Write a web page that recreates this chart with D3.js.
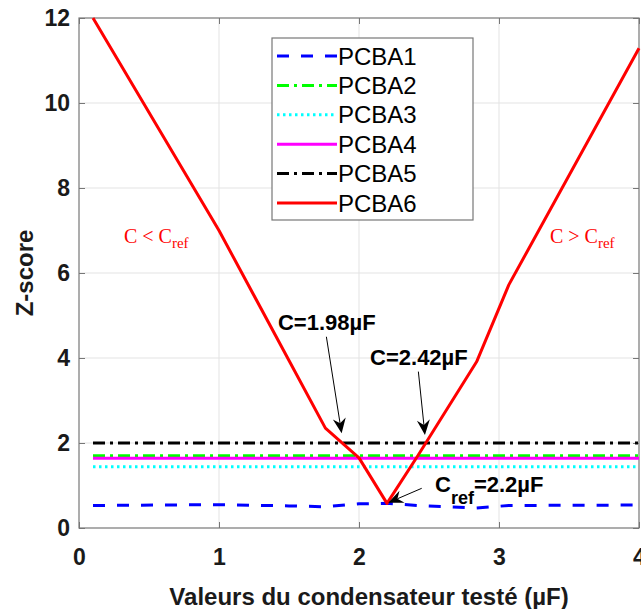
<!DOCTYPE html>
<html><head><meta charset="utf-8">
<script src="https://cdn.jsdelivr.net/npm/d3@7"></script>
<style>
body{margin:0;background:#fff;}
svg{display:block;}
</style></head>
<body>
<svg id="chart" width="641" height="609"></svg>
<script>
// ---- data ----
const xValues = [0.1, 1.0, 1.5, 1.76, 2.0, 2.2, 2.42, 2.84, 3.07, 4.0];
const pcba1 = [0.53, 0.55, 0.52, 0.50, 0.57, 0.58, 0.53, 0.47, 0.53, 0.54];
const pcba2 = [1.70, 1.70, 1.70, 1.70, 1.70, 1.70, 1.70, 1.70, 1.70, 1.70];
const pcba3 = [1.44, 1.44, 1.44, 1.44, 1.44, 1.44, 1.44, 1.44, 1.44, 1.44];
const pcba4 = [1.64, 1.64, 1.64, 1.64, 1.64, 1.64, 1.64, 1.64, 1.64, 1.64];
const pcba5 = [2.00, 2.00, 2.00, 2.00, 2.00, 2.00, 2.00, 2.00, 2.00, 2.00];
const pcba6 = [12.0, 7.0, 3.94, 2.35, 1.65, 0.58, 1.70, 3.91, 5.72, 11.29];
const seriesNames = ["PCBA1", "PCBA2", "PCBA3", "PCBA4", "PCBA5", "PCBA6"];
const xTicks = [0, 1, 2, 3, 4];
const yTicks = [0, 2, 4, 6, 8, 10, 12];

const seriesValues = [pcba1, pcba2, pcba3, pcba4, pcba5, pcba6];
const styles = [
  {color: "#0000ff", dash: "12,12"},
  {color: "#00ff00", dash: "12,5,3,5"},
  {color: "#00ffff", dash: "2.5,3.5"},
  {color: "#ff00ff", dash: null},
  {color: "#000000", dash: "12,5,3,5"},
  {color: "#ff0000", dash: null}
];

const L = 79, R = 639, T = 18, B = 528;
const x = d3.scaleLinear().domain([0, 4]).range([L, R]);
const y = d3.scaleLinear().domain([0, 12]).range([B, T]);

const svg = d3.select("#chart");

// grid
const grid = svg.append("g");
grid.selectAll("line.gx").data(xTicks.slice(1, -1)).join("line")
  .attr("x1", d => x(d)).attr("x2", d => x(d)).attr("y1", T).attr("y2", B)
  .attr("stroke", "#e3e3e3").attr("stroke-width", 1);
grid.selectAll("line.gy").data(yTicks.slice(1, -1)).join("line")
  .attr("y1", d => y(d)).attr("y2", d => y(d)).attr("x1", L).attr("x2", R)
  .attr("stroke", "#e3e3e3").attr("stroke-width", 1);

// axes
const tickFont = "bold 23px 'Liberation Sans', Arial, sans-serif";
const xAxis = svg.append("g").attr("transform", `translate(0,${B})`)
  .call(d3.axisBottom(x).tickValues(xTicks).tickFormat(d3.format("d")).tickSize(-6).tickPadding(21));
const yAxis = svg.append("g").attr("transform", `translate(${L},0)`)
  .call(d3.axisLeft(y).tickValues(yTicks).tickFormat(d3.format("d")).tickSize(-6).tickPadding(9));
svg.append("g").attr("transform", `translate(0,${T})`)
  .call(d3.axisTop(x).tickValues(xTicks).tickFormat("").tickSize(-6));
svg.append("g").attr("transform", `translate(${R},0)`)
  .call(d3.axisRight(y).tickValues(yTicks).tickFormat("").tickSize(-6));
svg.selectAll(".domain").remove();
svg.selectAll(".tick line").attr("stroke", "#777").attr("stroke-width", 1);
[xAxis, yAxis].forEach(a => a.selectAll("text").style("font", tickFont).attr("fill", "#1a1a1a"));

// box
svg.append("rect").attr("x", L).attr("y", T).attr("width", R - L).attr("height", B - T)
  .attr("fill", "none").attr("stroke", "#777").attr("stroke-width", 1.2);

// lines
const line = d3.line().x(d => x(d[0])).y(d => y(d[1]));
seriesValues.forEach((vals, i) => {
  const pts = xValues.map((xv, j) => [xv, vals[j]]);
  svg.append("path").datum(pts).attr("d", line)
    .attr("fill", "none").attr("stroke", styles[i].color).attr("stroke-width", 3)
    .attr("stroke-dasharray", styles[i].dash).attr("stroke-linejoin", "round");
});

// legend
const lg = svg.append("g");
lg.append("rect").attr("x", 272).attr("y", 38).attr("width", 201).attr("height", 182)
  .attr("fill", "#fff").attr("stroke", "#777").attr("stroke-width", 1.2);
seriesNames.forEach((n, i) => {
  const cy = 56 + i * 29.4;
  lg.append("line").attr("x1", 277).attr("x2", 337).attr("y1", cy).attr("y2", cy)
    .attr("stroke", styles[i].color).attr("stroke-width", 3).attr("stroke-dasharray", styles[i].dash);
  lg.append("text").attr("x", 338).attr("y", cy).attr("dy", "0.36em")
    .style("font", "24px 'Liberation Sans', Arial, sans-serif").attr("fill", "#000").text(n);
});

// axis labels
svg.append("text").attr("x", 369).attr("y", 605).attr("text-anchor", "middle")
  .style("font", "bold 24px 'Liberation Sans', Arial, sans-serif").attr("fill", "#1a1a1a")
  .text("Valeurs du condensateur testé (µF)");
svg.append("text").attr("transform", "translate(33,273) rotate(-90)").attr("text-anchor", "middle")
  .style("font", "bold 24px 'Liberation Sans', Arial, sans-serif").attr("fill", "#1a1a1a")
  .text("Z-score");

// region annotations (red, serif)
function regionLabel(xv, yv, sym) {
  const t = svg.append("text").attr("x", x(xv)).attr("y", y(yv))
    .style("font", "20px 'Liberation Serif', 'Times New Roman', serif").attr("fill", "#ff0000");
  t.append("tspan").text("C " + sym + " C");
  t.append("tspan").attr("dy", 5).style("font-size", "15px").text("ref");
}
regionLabel(0.321, 6.70, "<");
regionLabel(3.364, 6.70, ">");

// bold annotations
const annFont = "bold 22px 'Liberation Sans', Arial, sans-serif";
svg.append("text").attr("x", x(1.421)).attr("y", y(4.66)).style("font", annFont).attr("fill", "#000").text("C=1.98µF");
svg.append("text").attr("x", x(2.079)).attr("y", y(3.835)).style("font", annFont).attr("fill", "#000").text("C=2.42µF");
const cr = svg.append("text").attr("x", x(2.543)).attr("y", y(0.854)).style("font", annFont).attr("fill", "#000");
cr.append("tspan").text("C");
cr.append("tspan").attr("dy", 12).style("font-size", "18px").text("ref");
cr.append("tspan").attr("dy", -12).text("=2.2µF");

// arrows
function arrow(x0, y0, x1, y1) {
  const px0 = x(x0), py0 = y(y0), px1 = x(x1), py1 = y(y1);
  const ang = Math.atan2(py1 - py0, px1 - px0);
  const len = 15, half = 6.5, back = 10;
  const ux = Math.cos(ang), uy = Math.sin(ang);
  const nx = -uy, ny = ux;
  const bx = px1 - ux * len, by = py1 - uy * len;
  const nbx = px1 - ux * back, nby = py1 - uy * back;
  svg.append("line").attr("x1", px0).attr("y1", py0).attr("x2", nbx).attr("y2", nby)
    .attr("stroke", "#000").attr("stroke-width", 1);
  svg.append("path")
    .attr("d", `M${px1},${py1} L${bx + nx * half},${by + ny * half} L${nbx},${nby} L${bx - nx * half},${by - ny * half} Z`)
    .attr("fill", "#000");
}
arrow(1.767, 4.50, 1.876, 2.23);
arrow(2.424, 3.68, 2.471, 2.19);
arrow(2.448, 0.934, 2.209, 0.595);
</script>
</body></html>
